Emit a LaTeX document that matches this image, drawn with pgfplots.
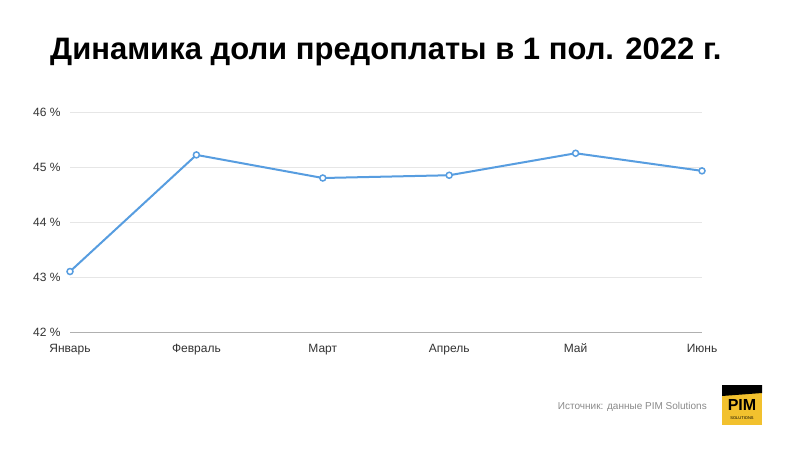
\documentclass[border=0pt]{standalone}
\usepackage{fontspec}
\setmainfont{Liberation Sans}
\usepackage{pgfplots}
\pgfplotsset{compat=1.18}
\definecolor{lineblue}{HTML}{579DE0}
\definecolor{gridgray}{HTML}{E6E6E6}
\definecolor{axisgray}{HTML}{B0B0B0}
\definecolor{labelgray}{HTML}{333333}
\definecolor{srcgray}{HTML}{8A8A8A}
\definecolor{pimyellow}{HTML}{F2C12E}

\begin{document}
\begin{tikzpicture}[x=1pt,y=1pt]
\path[use as bounding box, fill=white] (0,0) rectangle (800,448);
\node[anchor=west, inner sep=0pt, font=\fontsize{31}{36}\selectfont\bfseries] at (50,396)
  {Динамика доли предоплаты в 1 пол. 2022 г.};
\begin{axis}[
  at={(70pt,116pt)}, anchor=south west,
  scale only axis, width=632pt, height=220pt,
  xmin=0, xmax=5, ymin=42, ymax=46,
  xtick={0,...,5},
  xticklabels={Январь,Февраль,Март,Апрель,Май,Июнь},
  ytick={42,43,44,45,46},
  yticklabels={42 \%,43 \%,44 \%,45 \%,46 \%},
  axis x line*=bottom, axis y line*=left,
  y axis line style={draw=none},
  x axis line style={axisgray, line width=1pt, -},
  major tick length=0pt,
  ymajorgrids, grid style={gridgray, line width=0.8pt},
  tick label style={font=\fontsize{12}{14}\selectfont, text=labelgray},
  yticklabel style={anchor=east, xshift=-6pt},
  xticklabel style={anchor=north, text height=9pt, text depth=3pt, yshift=-8pt},
  clip=false,
]
\addplot[lineblue, line width=2pt, mark=*, mark size=3pt,
  mark options={fill=white, draw=lineblue, line width=1.5pt}]
  coordinates {(0,43.1) (1,45.22) (2,44.8) (3,44.85) (4,45.25) (5,44.93)};
\end{axis}
\node[anchor=east, inner sep=0pt, font=\fontsize{10}{12}\selectfont, text=srcgray] at (707,41)
  {Источник: данные PIM Solutions};
\fill[pimyellow] (722,23) rectangle (762,63);
\fill[black] (722,63) -- (762,63) -- (762,55) -- (722,52) -- cycle;
\node[inner sep=0pt, font=\fontsize{16}{16}\selectfont\bfseries] at (742,43) {PIM};
\node[inner sep=0pt, font=\fontsize{4}{4}\selectfont] at (742,30) {SOLUTIONS};
\end{tikzpicture}
\end{document}
